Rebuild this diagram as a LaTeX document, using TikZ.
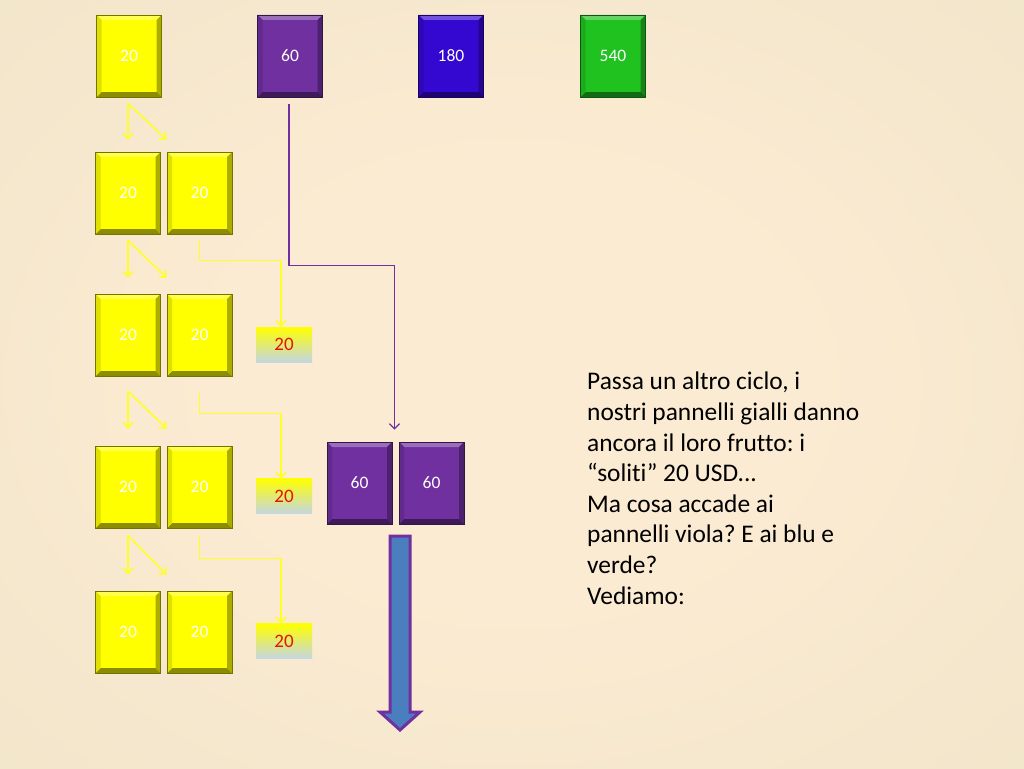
\documentclass[tikz,border=0pt]{standalone}
\usepackage{fontspec}
\setmainfont{Carlito}[Ligatures=NoCommon]
\usetikzlibrary{arrows.meta,calc}
\definecolor{ylw}{RGB}{255,255,0}
\definecolor{ylwline}{RGB}{255,255,40}
\definecolor{prp}{RGB}{112,48,160}
\definecolor{blu}{RGB}{52,8,208}
\definecolor{grn}{RGB}{32,194,32}
\definecolor{bgin}{RGB}{251,235,210}
\definecolor{bgmid}{RGB}{241,229,202}
\definecolor{bgedge}{RGB}{224,214,184}
\definecolor{bgout}{RGB}{204,192,156}
\definecolor{lblbot}{RGB}{196,214,226}
\definecolor{arrblue}{RGB}{74,126,190}
\definecolor{lbltext}{RGB}{230,20,0}
\pgfdeclareradialshading{bgshade}{\pgfpoint{0bp}{0bp}}{color(0bp)=(bgin); color(14bp)=(bgin); color(38bp)=(bgmid); color(50bp)=(bgedge); color(72bp)=(bgout)}
\tikzset{
  panel/.style={rectangle, minimum width=65pt, minimum height=82pt, inner sep=0pt,
    fill=#1, draw=#1!45!black, line width=0.8pt, text=white,
    font=\fontsize{17.5}{17.5}\selectfont,
    path picture={
      \fill[#1!70!white] (path picture bounding box.north west) -- (path picture bounding box.north east)
        -- ++(-5pt,-5pt) -- ($(path picture bounding box.north west)+(5pt,-5pt)$) -- cycle;
      \fill[#1!68!black] (path picture bounding box.north east) -- (path picture bounding box.south east)
        -- ++(-5pt,5pt) -- ($(path picture bounding box.north east)+(-5pt,-5pt)$) -- cycle;
      \fill[#1!55!black] (path picture bounding box.south west) -- (path picture bounding box.south east)
        -- ++(-5pt,5pt) -- ($(path picture bounding box.south west)+(5pt,5pt)$) -- cycle;
      \fill[#1!88!black] (path picture bounding box.north west) -- (path picture bounding box.south west)
        -- ++(5pt,5pt) -- ($(path picture bounding box.north west)+(5pt,-5pt)$) -- cycle;
    }},
  lbl/.style={rectangle, minimum width=56pt, minimum height=35pt, inner sep=0pt,
    top color=ylw, middle color=ylw, bottom color=lblbot, text=lbltext,
    font=\fontsize{19}{19}\selectfont},
  ya/.style={draw=ylwline, line width=1.6pt, -{Straight Barb[length=5pt,width=10pt]}},
  pa/.style={draw=prp, line width=1.3pt, -{Straight Barb[length=5pt,width=10pt]}},
  txt/.style={anchor=north west, inner sep=0pt, align=left, text=black,
    font=\fontsize{25.4}{30.6}\selectfont},
}
\begin{document}
\frenchspacing
\begin{tikzpicture}[x=1pt,y=-1pt]
\useasboundingbox (0,0) rectangle (1024,768);
\shade[shading=bgshade] (0,0) rectangle (1024,768);

% top row
\node[panel=ylw] (t1) at (129,56) {20};
\node[panel=prp] (t2) at (290,56) {60};
\node[panel=blu] (t3) at (451,56) {180};
\node[panel=grn] (t4) at (613,56) {540};

% yellow rows
\node[panel=ylw] (r2a) at (128,193) {20};
\node[panel=ylw] (r2b) at (199.5,193) {20};
\node[panel=ylw] (r3a) at (128,335) {20};
\node[panel=ylw] (r3b) at (199.5,335) {20};
\node[panel=ylw] (r4a) at (128,487) {20};
\node[panel=ylw] (r4b) at (199.5,487) {20};
\node[panel=ylw] (r5a) at (128,632) {20};
\node[panel=ylw] (r5b) at (199.5,632) {20};

% purple pair
\node[panel=prp] (q1) at (359.5,483) {60};
\node[panel=prp] (q2) at (431.5,483) {60};

% labels
\node[lbl] (l1) at (284,344.5) {20};
\node[lbl] (l2) at (284,496) {20};
\node[lbl] (l3) at (284,641) {20};

% split arrows
\coordinate (s1) at ($(t1.south)+(-1,6)$);
\draw[ya] (s1) -- ($(r2a.north)+(0,-12)$);
\draw[ya] (s1) -- ($(r2b.north west)+(0,-12)$);
\coordinate (s2) at ($(r2a.south)+(0,6)$);
\draw[ya] (s2) -- ($(r3a.north)+(0,-16)$);
\draw[ya] (s2) -- ($(r3b.north west)+(0,-16)$);
\coordinate (s3) at ($(r3a.south)+(0,15)$);
\draw[ya] (s3) -- ($(r4a.north)+(0,-17)$);
\draw[ya] (s3) -- ($(r4b.north west)+(0,-17)$);
\coordinate (s4) at ($(r4a.south)+(0,7)$);
\draw[ya] (s4) -- ($(r5a.north)+(0,-16)$);
\draw[ya] (s4) -- ($(r5b.north west)+(0,-16)$);

% elbow arrows to labels
\draw[ya] ($(r2b.south)+(0,6)$) -- ++(0,20) -| ($(l1.north)+(-3,0)$);
\draw[ya] ($(r3b.south)+(0,16)$) -- ++(0,21) -| ($(l2.north)+(-3,0)$);
\draw[ya] ($(r4b.south)+(0,7)$) -- ++(0,23) -| ($(l3.north)+(-3,0)$);

% purple connector
\coordinate (pe) at ($(q1.north east)!0.5!(q2.north west)+(-1,-12)$);
\draw[pa] ($(t2.south)+(-1,7)$) -- ++(0,161) -| (pe);

% big block arrow
\coordinate (ba) at (400,536);
\draw[prp, line width=3pt, fill=arrblue, line join=miter]
  ($(ba)+(-10,0)$) -- ($(ba)+(10,0)$) -- ($(ba)+(10,176)$) -- ($(ba)+(20,176)$)
  -- ($(ba)+(0,194)$) -- ($(ba)+(-20,176)$) -- ($(ba)+(-10,176)$) -- cycle;

% text
\node[txt] (tx) at (587,372) {Passa un altro ciclo, i\\
nostri pannelli gialli danno\\
ancora il loro frutto: i\\
“soliti” 20 USD...\\
Ma cosa accade ai\\
pannelli viola? E ai blu e\\
verde?\\
Vediamo:};
\end{tikzpicture}
\end{document}
